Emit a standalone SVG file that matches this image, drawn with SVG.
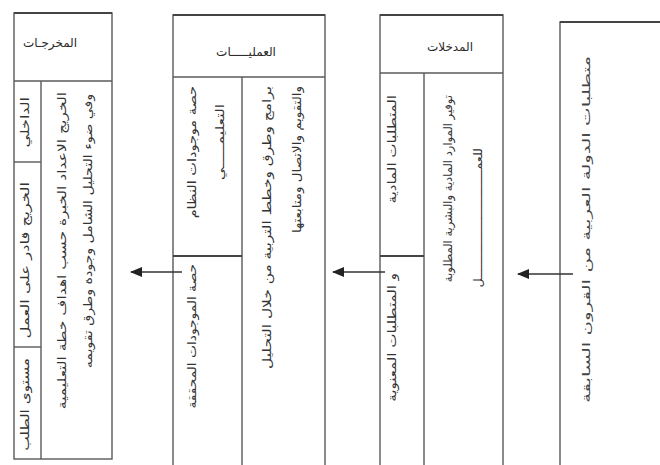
<svg xmlns="http://www.w3.org/2000/svg" width="660" height="465" viewBox="0 0 660 465">
<style>
.b{fill:none;stroke:#5a5a5a;stroke-width:1.4}
.t{stroke:#444;stroke-width:2;fill:none}
.h{font-family:"DejaVu Sans",sans-serif;font-size:12px;fill:#2a2a2a;text-anchor:middle}
.v{font-family:"DejaVu Sans",sans-serif;font-size:11.5px;fill:#333;text-anchor:end}
.c{stroke:#333;stroke-width:1.5;fill:none}
</style>
<defs>
<marker id="ah" viewBox="0 0 12 10" refX="11" refY="5" markerWidth="12" markerHeight="10" markerUnits="userSpaceOnUse" orient="auto">
<path d="M0,0 L12,5 L0,10 Z" fill="#222"/>
</marker>
</defs>
<rect width="660" height="465" fill="#fff"/>
<g id="node-outputs">
<rect class="b" x="14" y="13" width="98" height="446"/>
<line class="t" x1="14" y1="13" x2="112" y2="13"/>
<line class="b" x1="14" y1="81" x2="112" y2="81"/>
<line class="b" x1="41" y1="81" x2="41" y2="459"/>
<line class="b" x1="14" y1="162" x2="41" y2="162"/>
<line class="b" x1="14" y1="347" x2="41" y2="347"/>
<text class="h" x="50" y="47">المخرجـات</text>
<text class="v" transform="translate(29,97) rotate(-90) scale(1.39,1)">الداخلي</text>
<text class="v" transform="translate(29,182) rotate(-90) scale(1.43,1)">الخريج قادر على العمل</text>
<text class="v" transform="translate(29,358) rotate(-90) scale(1.33,1)">مستوى الطلب</text>
<text class="v" transform="translate(66,92) rotate(-90) scale(1.35,1)">الخريج الاعداد الخبرة حسب اهداف خطة التعليمية</text>
<text class="v" transform="translate(92,94) rotate(-90) scale(1.23,1)">وفي ضوء التحليل الشامل وجودة وطرق تقويمه</text>
</g>
<g id="node-processes">
<path class="b" d="M173,465 V15 H325 V465"/>
<line class="t" x1="173" y1="15" x2="325" y2="15"/>
<line class="b" x1="173" y1="77" x2="325" y2="77"/>
<line class="b" x1="242" y1="77" x2="242" y2="465"/>
<line class="t" x1="173" y1="256" x2="242" y2="256"/>
<text class="h" x="246" y="56">العمليـــــات</text>
<text class="v" transform="translate(196,86) rotate(-90) scale(1.26,1)">حصة موجودات النظام</text>
<text class="v" transform="translate(224,104) rotate(-90) scale(1.36,1)">التعليمـــــي</text>
<text class="v" transform="translate(196,264) rotate(-90) scale(1.2,1)">حصة الموجودات المحققة</text>
<text class="v" transform="translate(271,86) rotate(-90) scale(1.34,1)">برامج وطرق وخطط التربية من خلال التحليل</text>
<text class="v" transform="translate(301,86) rotate(-90) scale(1.17,1)">والتقويم والاتصال ومتابعتها</text>
</g>
<g id="node-inputs">
<path class="b" d="M380,465 V15 H503 V465"/>
<line class="t" x1="380" y1="15" x2="503" y2="15"/>
<line class="b" x1="380" y1="73" x2="503" y2="73"/>
<line class="b" x1="424" y1="73" x2="424" y2="465"/>
<line class="t" x1="380" y1="256" x2="424" y2="256"/>
<text class="h" x="450" y="51">المدخلات</text>
<text class="v" transform="translate(396,95) rotate(-90) scale(1.31,1)">المتطلبات المادية</text>
<text class="v" transform="translate(396,273) rotate(-90) scale(1.31,1)">و المتطلبات المعنوية</text>
<text class="v" transform="translate(452,95) rotate(-90)">توفير الموارد المادية والبشرية المطلوبة</text>
<text class="v" transform="translate(482,148) rotate(-90) scale(1.11,1)">للعمـــــــــــــــــــــــــــــل</text>
</g>
<g id="node-environment">
<path class="b" d="M660,22 H560 V465"/>
<line class="t" x1="560" y1="22" x2="660" y2="22"/>
<text class="v" transform="translate(590,56) rotate(-90) scale(1.8,1)" style="font-size:11px;fill:#444">متطلبات الدولة العربية من القرون السابقة</text>
</g>
<g id="connectors">
<line class="c" x1="182" y1="272" x2="131" y2="272" marker-end="url(#ah)"/>
<line class="c" x1="385" y1="272" x2="333" y2="272" marker-end="url(#ah)"/>
<line class="c" x1="573" y1="274" x2="518" y2="274" marker-end="url(#ah)"/>
</g>
</svg>
